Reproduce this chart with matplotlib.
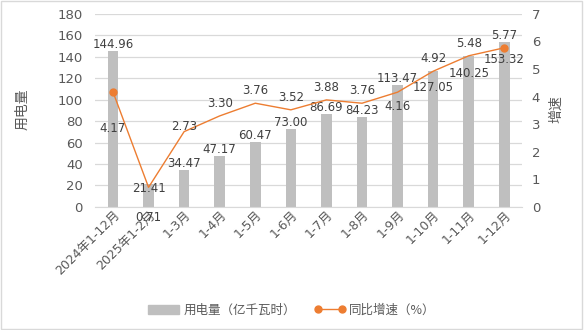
import matplotlib
matplotlib.use("Agg")
import matplotlib.pyplot as plt
from matplotlib.lines import Line2D
from matplotlib.patches import Patch

plt.rcParams["font.family"] = ["DejaVu Sans", "Noto Sans CJK SC"]

categories = ["2024年1-12月", "2025年1-2月", "1-3月", "1-4月", "1-5月", "1-6月",
              "1-7月", "1-8月", "1-9月", "1-10月", "1-11月", "1-12月"]
usage = [144.96, 21.41, 34.47, 47.17, 60.47, 73.00, 86.69, 84.23, 113.47, 127.05, 140.25, 153.32]
growth = [4.17, 0.71, 2.73, 3.30, 3.76, 3.52, 3.88, 3.76, 4.16, 4.92, 5.48, 5.77]

text_c = "#595959"
bar_c = "#BFBFBF"
line_c = "#ED7D31"
grid_c = "#D9D9D9"

fig = plt.figure(figsize=(5.84, 3.30), dpi=100)
fig.patches.append(plt.Rectangle((0.002, 0.004), 0.995, 0.992, transform=fig.transFigure,
                                 fill=False, edgecolor="#D9D9D9", linewidth=1))
ax = fig.add_axes([0.163, 0.373, 0.731, 0.585])
x = list(range(len(categories)))
ax.bar(x, usage, width=0.3, color=bar_c, zorder=2)
ax.set_xlim(-0.5, len(categories) - 0.5)
ax.set_ylim(0, 180)
ax.set_yticks(range(0, 181, 20))
ax.grid(axis="y", color=grid_c, linewidth=0.9, zorder=0)
for s in ["top", "right", "left"]:
    ax.spines[s].set_visible(False)
ax.spines["bottom"].set_color(grid_c)
ax.tick_params(axis="both", length=0, colors=text_c, labelsize=9.5)
ax.tick_params(axis="y", pad=9)
ax.set_xticks(x)
ax.set_xticklabels(categories, rotation=45, ha="right", rotation_mode="anchor")
ax.tick_params(axis="x", pad=1, labelsize=9)

ax2 = ax.twinx()
ax2.plot(x, growth, color=line_c, linewidth=1, zorder=3)
ax2.plot([x[0], x[-1]], [growth[0], growth[-1]], "o", color=line_c, markersize=5, zorder=4)
ax2.set_ylim(0, 7)
ax2.set_yticks(range(0, 8))
for s in ax2.spines.values():
    s.set_visible(False)
ax2.tick_params(axis="y", length=0, colors=text_c, labelsize=9.5, pad=7)

# bar value labels
for i, v in enumerate(usage):
    if i == 1:
        off = -8
    elif i in (9, 10, 11):
        off = -17
    else:
        off = 0
    ax.annotate(f"{v:.2f}", (i, v), xytext=(0, off), textcoords="offset points",
                ha="center", va="bottom", fontsize=8.5, color="#404040", zorder=5)

# growth labels (label centre offset from point, in points)
special = {0: -26, 1: -22, 2: 4, 8: -10}
for i, g in enumerate(growth):
    off = special.get(i, 9)
    ax2.annotate(f"{g:.2f}", (i, g), xytext=(0, off), textcoords="offset points",
                 ha="center", va="center", fontsize=8.5, color="#404040", zorder=5)

fig.text(0.038, 0.67, "用电量", rotation=90, ha="center", va="center", fontsize=10,
         color=text_c, family="Noto Sans CJK SC")
fig.text(0.952, 0.67, "增速", rotation=90, ha="center", va="center", fontsize=10,
         color=text_c, family="Noto Sans CJK SC")

handles = [Patch(color=bar_c),
           Line2D([0], [0], color=line_c, marker="o", markersize=5, linewidth=1)]
fig.legend(handles, ["用电量（亿千瓦时）", "同比增速（%）"], loc="center",
           bbox_to_anchor=(0.5, 0.06), ncol=2, frameon=False,
           labelcolor=text_c, numpoints=2, handlelength=2.5, handletextpad=0.3,
           columnspacing=1.5, prop={"family": ["Noto Sans CJK SC"], "size": 9})

fig.savefig("out.png", dpi=100)
